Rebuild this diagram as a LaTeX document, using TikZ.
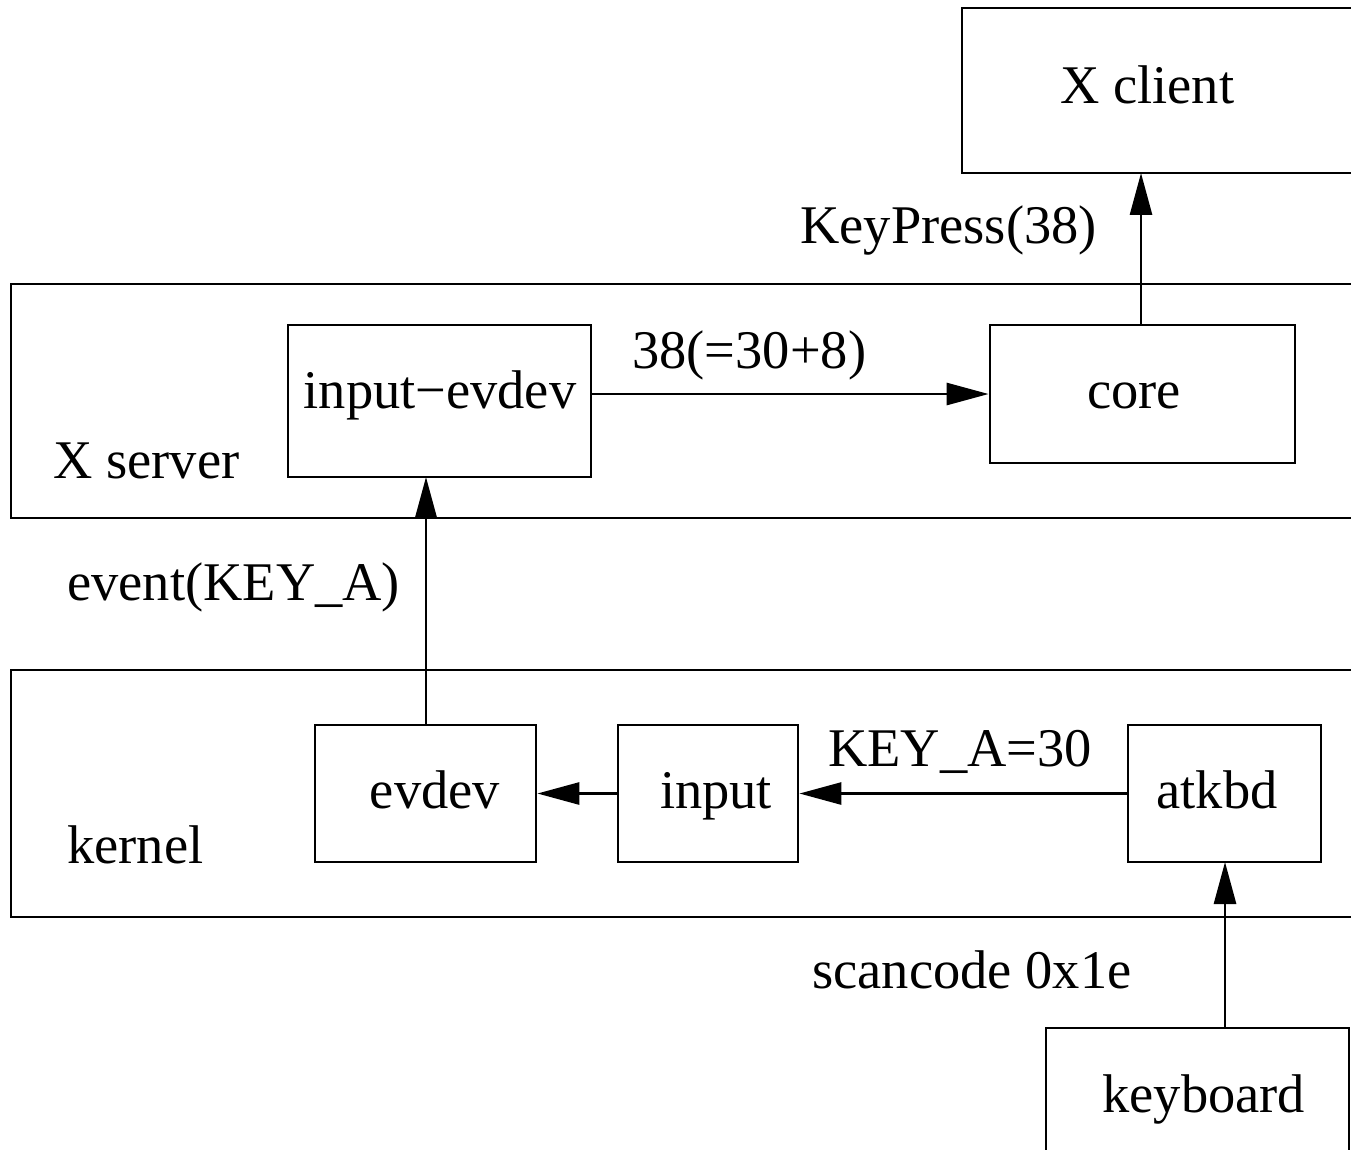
\documentclass[tikz,border=0pt]{standalone}
\usepackage{fontspec}
\setmainfont{Liberation Serif}
\usetikzlibrary{arrows.meta,fit}
\begin{document}
\begin{tikzpicture}[x=0.02cm,y=-0.02cm,
  every node/.style={font=\fontsize{31}{37}\selectfont},
  box/.style={draw, line width=1.6pt, inner sep=0pt},
  lbl/.style={anchor=base west, inner sep=0pt},
  boxtitle/.style={anchor=base, inner sep=0pt},
  flow/.style={line width=1.6pt, -{Triangle[length=0.84cm,width=0.44cm]}}]
\useasboundingbox (0,0) rectangle (1351,1149);
\clip (0,0) rectangle (1351,1149);
% layers
\node[box, fit={(11,284) (1420,518)}] (xserver) {};
\node[box, fit={(11,670) (1420,917)}] (kernel) {};
\node[lbl] (xserverlbl) at (53,478) {X server};
\node[lbl] (kernellbl) at (67,863) {kernel};
% components
\node[box, fit={(962,8) (1420,173)}] (xclient) {};
\node[box, fit={(288,325) (591,477)}] (ievdev) {};
\node[box, fit={(990,325) (1295,463)}] (core) {};
\node[box, fit={(315,725) (536,862)}] (evdev) {};
\node[box, fit={(618,725) (798,862)}] (input) {};
\node[box, fit={(1128,725) (1321,862)}] (atkbd) {};
\node[box, fit={(1046,1028) (1349,1200)}] (keyboard) {};
% component titles
\node[lbl] (xclientname) at (1060,104) {X client};
\node[boxtitle] (ievdevname) at (440,408) {input−evdev};
\node[boxtitle] (corename) at (1134,408) {core};
\node[boxtitle] (evdevname) at (435,808) {evdev};
\node[boxtitle] (inputname) at (716,808) {input};
\node[boxtitle] (atkbdname) at (1217,808) {atkbd};
\node[lbl] (keyboardname) at (1102,1112) {keyboard};
% connectors
\coordinate (kbtop) at (1225,1028);
\coordinate (atbot) at (1225,862);
\draw[flow] (kbtop) -- (atbot);
\draw[flow] (atkbd.west) -- (input.east);
\draw[flow] (input.west) -- (evdev.east);
\coordinate (evtop) at (426,725);
\coordinate (ievbot) at (426,477);
\draw[flow] (evtop) -- (ievbot);
\draw[flow] (ievdev.east |- 0,394) -- (core.west |- 0,394);
\coordinate (coretop) at (1141,325);
\coordinate (xcbot) at (1141,173);
\draw[flow] (coretop) -- (xcbot);
% edge labels
\node[lbl] (l1) at (800,243) {KeyPress(38)};
\node[lbl] (l2) at (632,368) {38(=30+8)};
\node[lbl] (l3) at (67,600) {event(KEY\_A)};
\node[lbl] (l4) at (828,766) {KEY\_A=30};
\node[lbl] (l5) at (812,988) {scancode 0x1e};
\end{tikzpicture}
\end{document}
